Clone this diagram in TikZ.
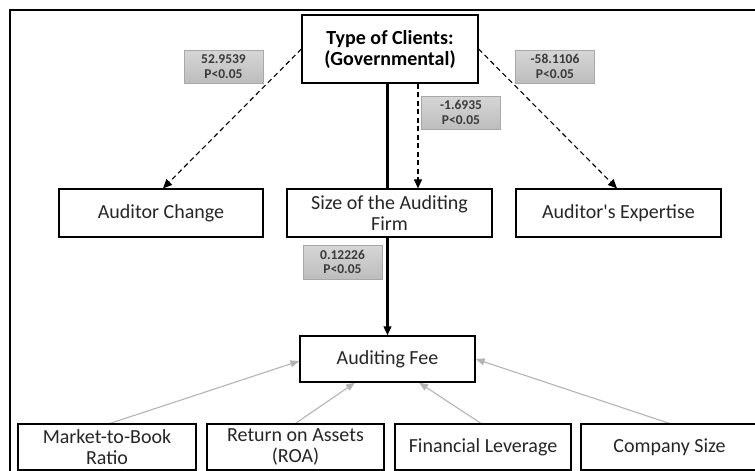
\documentclass[tikz,border=0pt]{standalone}
\usepackage{fontspec}
\setmainfont{Carlito}[Ligatures=TeXOff]
\usetikzlibrary{arrows.meta,backgrounds}
\definecolor{textdark}{HTML}{262626}
\definecolor{labeltext}{HTML}{3A3A3A}
\definecolor{labeltop}{HTML}{D6D6D6}
\definecolor{labelbottom}{HTML}{BDBDBD}
\definecolor{labelborder}{HTML}{A8A8A8}
\definecolor{linkgray}{HTML}{B4B4B4}
\begin{document}
\begin{tikzpicture}[x=1pt,y=-1pt,
  box/.style={draw=black,line width=1.2pt,fill=white,align=center,
    inner sep=0pt,text=textdark,font=\fontsize{20}{21.5}\selectfont},
  titlebox/.style={box,font=\bfseries\fontsize{20}{21}\selectfont,text=black},
  statlabel/.style={draw=labelborder,line width=0.6pt,top color=labeltop,
    bottom color=labelbottom,minimum width=79pt,minimum height=33pt,inner sep=0pt,
    align=center,text=labeltext,font=\bfseries\fontsize{13.5}{14.5}\selectfont},
  mainlink/.style={line width=2.4pt,-{Triangle[length=9pt,width=7.5pt]}},
  dashlink/.style={line width=1.1pt,dash pattern=on 5pt off 3.5pt,
    -{Triangle[length=9pt,width=8pt]}},
  ctrllink/.style={line width=1.1pt,draw=linkgray,
    -{Triangle[length=9pt,width=7pt,fill=linkgray]}},
]
\useasboundingbox (0,0) rectangle (755,471);
% page frame
\draw[line width=2pt] (10,471) -- (10,10) -- (760,10);

% top node
\node[titlebox,minimum width=176pt,minimum height=68pt] (type) at (390,49)
  {Type of Clients:\\(Governmental)};

% middle row
\node[box,minimum width=204pt,minimum height=48pt] (change) at (161,213) {Auditor Change};
\node[box,minimum width=205pt,minimum height=48pt] (firm) at (389.5,213) {Size of the Auditing\\Firm};
\node[box,minimum width=205pt,minimum height=48pt] (expert) at (618.5,213) {Auditor's Expertise};

% outcome
\node[box,minimum width=175pt,minimum height=46pt] (fee) at (387.5,359) {Auditing Fee};

% control variables
\node[box,minimum width=178pt,minimum height=46pt] (mtb) at (107,447) {Market-to-Book\\Ratio};
\node[box,minimum width=177pt,minimum height=46pt] (roa) at (295.5,447) {Return on Assets\\(ROA)};
\node[box,minimum width=176pt,minimum height=46pt] (lev) at (483,447) {Financial Leverage};
\node[box,minimum width=177pt,minimum height=46pt] (csize) at (669.5,447) {Company Size};

% coefficient labels
\node[statlabel] (l1) at (223.5,66.5) {52.9539\\P<0.05};
\node[statlabel] (l2) at (555,66.5) {-58.1106\\P<0.05};
\node[statlabel] (l3) at (461,112.5) {-1.6935\\P<0.05};
\node[statlabel,minimum height=34pt] (l4) at (342.5,262) {0.12226\\P<0.05};

% connectors, drawn behind the boxes
\begin{pgfonlayer}{background}
  \draw[mainlink] (type.south -| fee.north) -- (fee.north);
  \draw[dashlink] ([xshift=28pt]type.south) -- ([xshift=28pt]type.south |- firm.north);
  \draw[dashlink] (type.west) -- ([xshift=2pt]change.north);
  \draw[dashlink] (type.east) -- ([xshift=-1.5pt]expert.north);
  \draw[ctrllink] ([xshift=3pt]mtb.north) -- ([yshift=-2pt]fee.west);
  \draw[ctrllink] (roa.north) -- ([xshift=-32.5pt]fee.south);
  \draw[ctrllink] ([xshift=-2pt]lev.north) -- ([xshift=31.5pt]fee.south);
  \draw[ctrllink] (csize.north) -- (fee.east);
\end{pgfonlayer}
\end{tikzpicture}
\end{document}
